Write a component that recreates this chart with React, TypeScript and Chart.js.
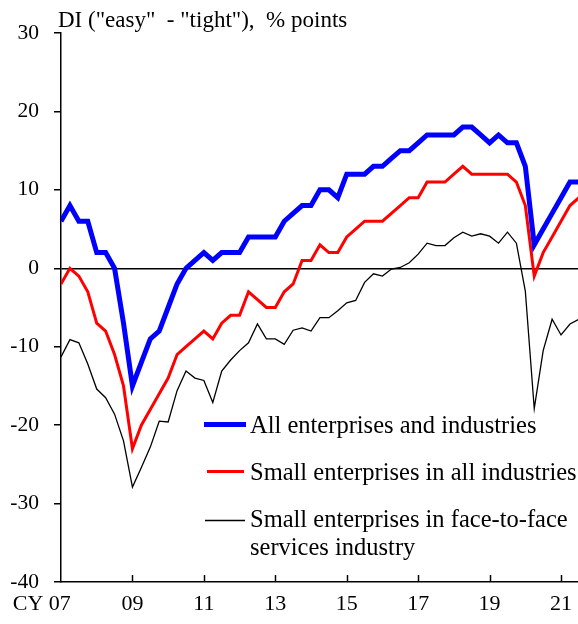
import React, { useEffect, useRef } from "react";
import { Chart, registerables } from "chart.js";

Chart.register(...registerables);

// Quarterly data, starting 2007 Q1
const startYear = 2007;

const allEnterprises = [
  6, 8, 6, 6, 2, 2, 0, -7, -15, -12, -9, -8, -5, -2, 0, 1, 2, 1, 2, 2,
  2, 4, 4, 4, 4, 6, 7, 8, 8, 10, 10, 9, 12, 12, 12, 13, 13, 14, 15, 15,
  16, 17, 17, 17, 17, 18, 18, 17, 16, 17, 16, 16, 13, 3, 5, 7, 9, 11, 11,
];

const smallAllIndustries = [
  -2, 0, -1, -3, -7, -8, -11, -15, -23, -20, -18, -16, -14, -11, -10, -9, -8, -9, -7, -6,
  -6, -3, -4, -5, -5, -3, -2, 1, 1, 3, 2, 2, 4, 5, 6, 6, 6, 7, 8, 9,
  9, 11, 11, 11, 12, 13, 12, 12, 12, 12, 12, 11, 8, -1, 2, 4, 6, 8, 9,
];

const smallFaceToFace = [
  -11.3, -9.1, -9.5, -12.2, -15.4, -16.5, -18.6, -22, -27.9, -25.4, -22.8, -19.5, -19.6, -15.6, -13.1, -14, -14.3, -17.1, -13.1, -11.7,
  -10.5, -9.5, -7.1, -9, -9, -9.7, -7.9, -7.6, -8, -6.3, -6.3, -5.4, -4.4, -4.1, -1.8, -0.7, -1, -0.1, 0.1, 0.7,
  1.8, 3.2, 2.9, 2.9, 3.9, 4.6, 4.1, 4.4, 4.1, 3.2, 4.6, 3.2, -2.9, -17.9, -10.5, -6.5, -8.5, -7.1, -6.5,
];

const seriesNames = [
  "All enterprises and industries",
  "Small enterprises in all industries",
  "Small enterprises in face-to-face",
  "services industry",
];

const xTickYears = [2007, 2009, 2011, 2013, 2015, 2017, 2019, 2021];
const xTickLabels = ["CY 07", "09", "11", "13", "15", "17", "19", "21"];
const yMin = -40;
const yMax = 30;
const yStep = 10;
const titleText = 'DI ("easy"  - "tight"),  % points';

const FONT = '"Liberation Serif", "Times New Roman", serif';

const toPoints = (arr: number[]) => arr.map((v, i) => ({ x: i, y: v }));

const decorPlugin = {
  id: "decor",
  afterDraw(chart: any) {
    const { ctx, chartArea, scales } = chart;
    ctx.save();
    // inward x tick marks
    ctx.strokeStyle = "#000";
    ctx.lineWidth = 1.5;
    xTickYears.slice(1).forEach((yr) => {
      const px = Math.round(scales.x.getPixelForValue((yr - startYear) * 4)) + 0.5;
      ctx.beginPath();
      ctx.moveTo(px, chartArea.bottom);
      ctx.lineTo(px, chartArea.bottom - 7);
      ctx.stroke();
    });
    // title
    ctx.fillStyle = "#000";
    ctx.font = `23px ${FONT}`;
    ctx.textAlign = "left";
    ctx.textBaseline = "alphabetic";
    ctx.fillText(titleText, 58, 27);

    // legend
    ctx.font = `24.5px ${FONT}`;
    const items = [
      { color: "#0000FF", width: 5, x1: 204, x2: 246, y: 424.5, texts: [seriesNames[0]], base: [432.5] },
      { color: "#FF0000", width: 3, x1: 207, x2: 244, y: 471.5, texts: [seriesNames[1]], base: [480] },
      { color: "#000000", width: 1.3, x1: 205, x2: 245, y: 520.5, texts: [seriesNames[2], seriesNames[3]], base: [527, 555] },
    ];
    items.forEach((it) => {
      ctx.strokeStyle = it.color;
      ctx.lineWidth = it.width;
      ctx.beginPath();
      ctx.moveTo(it.x1, it.y);
      ctx.lineTo(it.x2, it.y);
      ctx.stroke();
      ctx.fillStyle = "#000";
      it.texts.forEach((t, k) => ctx.fillText(t, 250, it.base[k]));
    });
    ctx.restore();
  },
};

export default function App() {
  const canvasRef = useRef<HTMLCanvasElement | null>(null);

  useEffect(() => {
    if (!canvasRef.current) return;
    const chart = new Chart(canvasRef.current, {
      type: "line",
      data: {
        datasets: [
          {
            label: seriesNames[0],
            data: toPoints(allEnterprises),
            borderColor: "#0000FF",
            borderWidth: 5,
            pointRadius: 0,
            tension: 0,
          },
          {
            label: seriesNames[1],
            data: toPoints(smallAllIndustries),
            borderColor: "#FF0000",
            borderWidth: 3,
            pointRadius: 0,
            tension: 0,
          },
          {
            label: seriesNames[2] + " " + seriesNames[3],
            data: toPoints(smallFaceToFace),
            borderColor: "#000000",
            borderWidth: 1.3,
            pointRadius: 0,
            tension: 0,
          },
        ],
      },
      options: {
        responsive: false,
        animation: false,
        devicePixelRatio: 1,
        layout: { padding: { top: 33, left: 0, right: 0, bottom: 0 } },
        plugins: {
          legend: { display: false },
          tooltip: { enabled: false },
          title: { display: false },
        },
        scales: {
          x: {
            type: "linear",
            min: 0,
            max: 57.9,
            afterBuildTicks: (scale: any) => {
              scale.ticks = xTickYears.map((yr) => ({ value: (yr - startYear) * 4 }));
            },
            afterFit: (scale: any) => {
              scale.height = 42;
              scale.paddingLeft = 0;
              scale.paddingRight = 0;
            },
            ticks: {
              autoSkip: false,
              maxRotation: 0,
              minRotation: 0,
              padding: 9,
              color: "#000",
              font: { family: FONT, size: 22 },
              callback: (value: any, index: number) =>
                index === 0 ? xTickLabels[0] + "       " : xTickLabels[index],
            },
            grid: { display: false, drawTicks: false },
            border: { display: true, color: "#000", width: 1.5 },
          },
          y: {
            min: yMin,
            max: yMax,
            afterFit: (scale: any) => {
              scale.width = 61;
            },
            ticks: {
              stepSize: yStep,
              padding: 15,
              color: "#000",
              font: { family: FONT, size: 21.5 },
            },
            grid: {
              color: (ctx: any) => (ctx.tick && ctx.tick.value === 0 ? "#000" : "rgba(0,0,0,0)"),
              lineWidth: 1.5,
              tickColor: "#000",
              tickLength: 7,
              tickWidth: 1.5,
              drawTicks: true,
            },
            border: { display: true, color: "#000", width: 1.5 },
          },
        },
      },
      plugins: [decorPlugin],
    } as any);
    return () => chart.destroy();
  }, []);

  return (
    <div style={{ position: "absolute", left: 0, top: 0, width: 578, height: 624 }}>
      <canvas ref={canvasRef} width={578} height={624} style={{ display: "block" }} />
    </div>
  );
}
